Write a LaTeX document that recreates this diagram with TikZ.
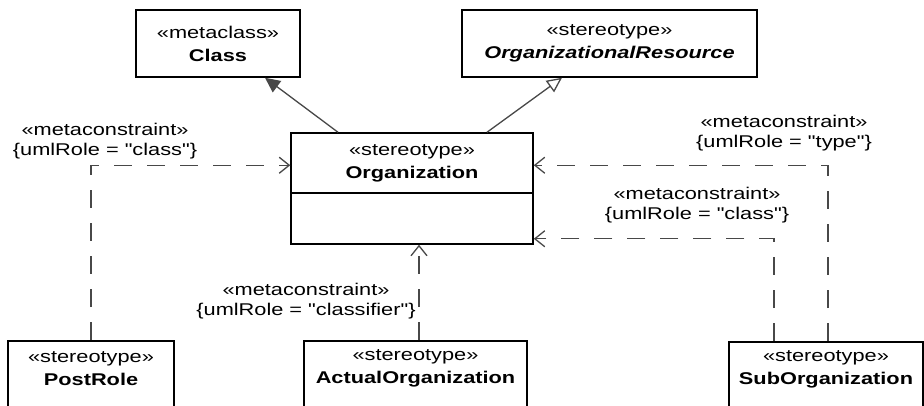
\documentclass[tikz,border=0pt]{standalone}
\usepackage{fontspec}
\setmainfont[FakeStretch=1.28, Ligatures=TeXOff]{Liberation Sans}
\usetikzlibrary{positioning, calc, arrows.meta}
\definecolor{lineGray}{RGB}{72,72,72}

\tikzset{
  umlbox/.style={draw=black, line width=1.5pt, fill=white, inner sep=0pt},
  boxtext/.style={align=center, font=\fontsize{17}{23}\selectfont},
  notetext/.style={align=center, inner sep=0pt, font=\fontsize{17}{20}\selectfont},
  metalink/.style={draw=lineGray, line width=1.3pt, dash pattern=on 18pt off 15pt,
    -{Straight Barb[length=10pt,width=16pt]}},
  genlink/.style={draw=lineGray, line width=1.3pt},
}

\begin{document}
\begin{tikzpicture}[x=1pt, y=-1pt]
  \clip (0,0) rectangle (924,406);
  % top row
  \node[umlbox, minimum width=164pt, minimum height=67pt, boxtext] (cls) at (218,43.5)
    {«metaclass»\\\textbf{Class}};
  \node[umlbox, minimum width=295pt, minimum height=67pt, boxtext] (res) at (609.5,43.5)
    {«stereotype»\\\textbf{\textit{OrganizationalResource}}};
  % organization
  \node[umlbox, minimum width=242pt, minimum height=111pt] (org) at (412,188.5) {};
  \node[boxtext] (orgname) at ($(org.north)+(0,31)$) {«stereotype»\\\textbf{Organization}};
  \draw[line width=1.5pt] ($(org.north west)+(0,61)$) -- ($(org.north east)+(0,61)$);
  % bottom row
  \node[umlbox, minimum width=166pt, minimum height=100pt, anchor=north] (post) at (91,340) {};
  \node[boxtext] (postname) at ($(post.north)+(0,28.5)$) {«stereotype»\\\textbf{PostRole}};
  \node[umlbox, minimum width=223pt, minimum height=100pt, anchor=north] (act) at (415.5,340) {};
  \node[boxtext] (actname) at ($(act.north)+(0,28.5)$) {«stereotype»\\\textbf{ActualOrganization}};
  \node[umlbox, minimum width=194pt, minimum height=100pt, anchor=north] (sub) at (826,341) {};
  \node[boxtext] (subname) at ($(sub.north)+(0,28)$) {«stereotype»\\\textbf{SubOrganization}};

  % generalizations
  \draw[genlink, -{Triangle[length=15pt,width=14pt]}]
    ($(org.north)+(-74,0)$) -- ($(cls.south)+(47,0)$);
  \draw[genlink, -{Triangle[open,length=15pt,width=14pt,fill=white]}]
    ($(org.north)+(75,0)$) -- ($(res.south)+(-47.5,0)$);

  % metaconstraints
  \coordinate (postin) at ($(org.north west)+(0,33)$);
  \draw[metalink] (post.north) |- (postin);
  \coordinate (actout) at ($(act.north)+(3.5,0)$);
  \draw[metalink] (actout) -- (actout |- org.south);
  \coordinate (subout) at ($(sub.north)+(2,0)$);
  \coordinate (typein) at ($(org.north east)+(0,33)$);
  \draw[metalink] (subout) |- (typein);
  \coordinate (subin) at ($(sub.north)+(-52,0)$);
  \coordinate (classin) at ($(org.south east)+(0,-6)$);
  \draw[metalink] (subin) |- (classin);

  \node[notetext] (postlbl) at (105,141) {«metaconstraint»\\\{umlRole = "class"\}};
  \node[notetext] (typelbl) at (784,133) {«metaconstraint»\\\{umlRole = "type"\}};
  \node[notetext] (classlbl) at (697,205) {«metaconstraint»\\\{umlRole = "class"\}};
  \node[notetext] (classifierlbl) at (306,301) {«metaconstraint»\\\{umlRole = "classifier"\}};
\end{tikzpicture}
\end{document}
